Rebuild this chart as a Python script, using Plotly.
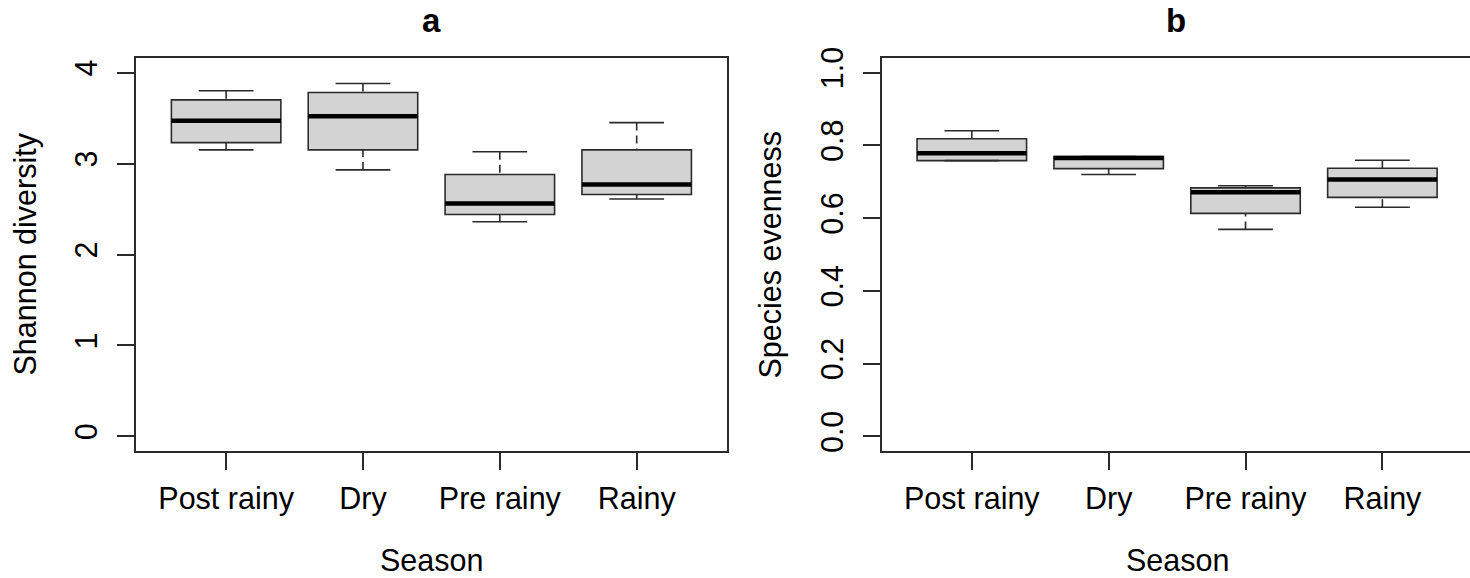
import plotly.graph_objects as go

# ---------------- data ----------------
seasons = ["Post rainy", "Dry", "Pre rainy", "Rainy"]

# Panel a: Shannon diversity
sh_min = [3.15, 2.93, 2.36, 2.61]
sh_q1 = [3.23, 3.15, 2.44, 2.66]
sh_med = [3.47, 3.52, 2.56, 2.77]
sh_q3 = [3.70, 3.78, 2.88, 3.15]
sh_max = [3.80, 3.88, 3.13, 3.45]

# Panel b: Species evenness
ev_min = [0.758, 0.720, 0.569, 0.630]
ev_q1 = [0.758, 0.736, 0.613, 0.657]
ev_med = [0.778, 0.765, 0.671, 0.706]
ev_q3 = [0.818, 0.769, 0.683, 0.737]
ev_max = [0.840, 0.769, 0.689, 0.759]

sh_ticks = [0, 1, 2, 3, 4]
ev_ticks = [0.0, 0.2, 0.4, 0.6, 0.8, 1.0]
ev_ticktext = ["0.0", "0.2", "0.4", "0.6", "0.8", "1.0"]

# ---------------- style ----------------
W, H = 1470, 578
FONT = "Liberation Sans, Arial, sans-serif"
FS = 30.5
LINE = "#2b2b2b"
FILL = "#d3d3d3"
BOXW = 0.8
CAPW = 0.4
pos = list(range(1, len(seasons) + 1))

fig = go.Figure()


def add_panel(xa, ya, mn, q1, med, q3, mx):
    # boxes (without whiskers; whiskers drawn dashed below)
    for i, p in enumerate(pos):
        fig.add_trace(go.Box(
            x=[p], q1=[q1[i]], median=[med[i]], q3=[q3[i]],
            lowerfence=[q1[i]], upperfence=[q3[i]],
            width=BOXW, whiskerwidth=0, fillcolor=FILL,
            line=dict(color=LINE, width=1.6), boxpoints=False,
            xaxis=xa, yaxis=ya, showlegend=False, hoverinfo="skip"))
    # dashed whiskers (drawn from the extreme toward the box, like R)
    wx, wy = [], []
    for i, p in enumerate(pos):
        if mx[i] > q3[i]:
            wx += [p, p, None]
            wy += [mx[i], q3[i], None]
        if mn[i] < q1[i]:
            wx += [p, p, None]
            wy += [mn[i], q1[i], None]
    fig.add_trace(go.Scatter(x=wx, y=wy, mode="lines",
                             line=dict(color=LINE, width=1.6, dash="8px,5px"),
                             xaxis=xa, yaxis=ya, showlegend=False, hoverinfo="skip"))
    # caps
    cx, cy = [], []
    for i, p in enumerate(pos):
        for v in (mn[i], mx[i]):
            cx += [p - CAPW / 2, p + CAPW / 2, None]
            cy += [v, v, None]
    fig.add_trace(go.Scatter(x=cx, y=cy, mode="lines",
                             line=dict(color=LINE, width=1.6),
                             xaxis=xa, yaxis=ya, showlegend=False, hoverinfo="skip"))
    # thick medians
    mxs, mys = [], []
    for i, p in enumerate(pos):
        mxs += [p - BOXW / 2, p + BOXW / 2, None]
        mys += [med[i], med[i], None]
    fig.add_trace(go.Scatter(x=mxs, y=mys, mode="lines",
                             line=dict(color="#000000", width=4.5),
                             xaxis=xa, yaxis=ya, showlegend=False, hoverinfo="skip"))


add_panel("x", "y", sh_min, sh_q1, sh_med, sh_q3, sh_max)
add_panel("x2", "y2", ev_min, ev_q1, ev_med, ev_q3, ev_max)

ydom = [1 - 451 / H, 1 - 58 / H]
xa_dom = [135.8 / W, 727 / W]
xb_dom = [881.5 / W, 1.0]
px_per_unit = (727 - 135.8) / 4.32
xb_max = 0.34 + (W - 881.5) / px_per_unit

common_x = dict(tickmode="array", tickvals=pos, ticktext=seasons,
                ticks="outside", ticklen=17, tickwidth=1.5, tickcolor=LINE,
                showline=True, linecolor=LINE, linewidth=1.5,
                showgrid=False, zeroline=False, automargin=False,
                ticklabelstandoff=3,
                tickfont=dict(family=FONT, size=FS, color="#000"))
common_y = dict(ticks="outside", ticklen=17, tickwidth=1.5, tickcolor=LINE,
                showline=True, linecolor=LINE, linewidth=1.5,
                showgrid=False, zeroline=False, tickangle=-90, automargin=False,
                ticklabelstandoff=8,
                tickfont=dict(family=FONT, size=FS, color="#000"))

fig.update_layout(
    template="none",
    width=W, height=H,
    margin=dict(l=0, r=0, t=0, b=0, pad=0),
    paper_bgcolor="white", plot_bgcolor="white",
    showlegend=False,
    xaxis=dict(domain=xa_dom, range=[0.34, 4.66], anchor="y", mirror=True, **common_x),
    yaxis=dict(domain=ydom, range=[-0.16, 4.16], anchor="x", mirror=True,
               tickmode="array", tickvals=sh_ticks, **common_y),
    xaxis2=dict(domain=xb_dom, range=[0.34, xb_max], anchor="y2", mirror=True, **common_x),
    yaxis2=dict(domain=ydom, range=[-0.04, 1.04], anchor="x2", mirror=False,
                tickmode="array", tickvals=ev_ticks, ticktext=ev_ticktext, **common_y),
)

ann_font = dict(family=FONT, size=FS, color="#000")
title_font = dict(family=FONT, size=33, color="#000")
fig.add_annotation(text="<b>a</b>", x=(xa_dom[0] + xa_dom[1]) / 2, y=1.0,
                   xref="paper", yref="paper", showarrow=False, font=title_font,
                   xanchor="center", yanchor="top")
fig.add_annotation(text="<b>b</b>", x=1176 / W, y=1.0,
                   xref="paper", yref="paper", showarrow=False, font=title_font,
                   xanchor="center", yanchor="top")
fig.add_annotation(text="Season", x=(xa_dom[0] + xa_dom[1]) / 2, y=1 - 560 / H,
                   xref="paper", yref="paper", showarrow=False, font=ann_font,
                   xanchor="center", yanchor="middle")
fig.add_annotation(text="Season", x=1177 / W, y=1 - 560 / H,
                   xref="paper", yref="paper", showarrow=False, font=ann_font,
                   xanchor="center", yanchor="middle")
fig.add_annotation(text="Shannon diversity", x=25 / W, y=(ydom[0] + ydom[1]) / 2,
                   xref="paper", yref="paper", showarrow=False, font=ann_font,
                   textangle=-90, xanchor="center", yanchor="middle")
fig.add_annotation(text="Species evenness", x=770 / W, y=(ydom[0] + ydom[1]) / 2,
                   xref="paper", yref="paper", showarrow=False, font=ann_font,
                   textangle=-90, xanchor="center", yanchor="middle")

fig.write_html("out.html", config={"displayModeBar": False},
               post_script="document.body.style.margin='0';document.body.style.padding='0';")
